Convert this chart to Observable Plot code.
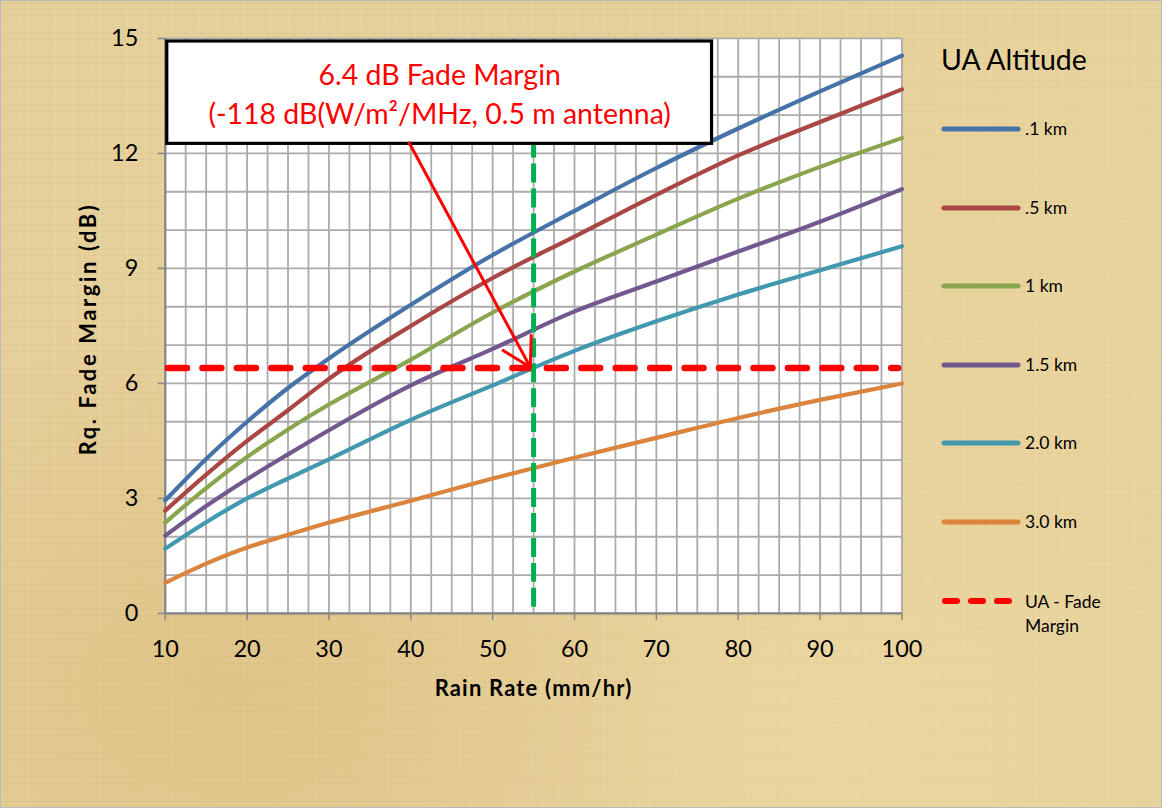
<!DOCTYPE html>
<html>
<head>
<meta charset="utf-8">
<script src="https://cdn.jsdelivr.net/npm/d3@7"></script>
<script src="https://cdn.jsdelivr.net/npm/@observablehq/plot@0.6"></script>
<style>
  html, body { margin: 0; padding: 0; }
  body {
    width: 1162px; height: 808px; position: relative; overflow: hidden;
    font-family: Lato, "Open Sans", sans-serif;
    background-color: #E6D09A;
    background-image:
      radial-gradient(ellipse at 20% 85%, rgba(200,160,80,0.25), transparent 40%),
      radial-gradient(ellipse at 75% 90%, rgba(245,225,170,0.35), transparent 45%),
      radial-gradient(ellipse at 95% 30%, rgba(240,220,165,0.3), transparent 40%),
      repeating-linear-gradient(90deg, rgba(255,255,255,0.08) 0 2px, transparent 2px 9px),
      repeating-linear-gradient(0deg, rgba(150,110,40,0.07) 0 1px, transparent 1px 6px);
    box-sizing: border-box;
    border: 1px solid #b9b9b9;
  }
  #chart { position: absolute; left: 0; top: 0; }
  #legend { position: absolute; left: 0; top: 0; width: 1162px; height: 808px; pointer-events: none; }
  .lg-title { position: absolute; left: 940px; top: 41px; font-size: 28.5px; color: #000; white-space: nowrap; }
  .lg-item { position: absolute; left: 940px; white-space: nowrap; font-size: 17.5px; color: #000; }
  .lg-item svg { position: absolute; left: 0; top: 0; }
  .lg-item span { position: absolute; left: 84px; top: -11px; line-height: 22px; }
</style>
</head>
<body>
<div id="chart"></div>
<div id="legend"></div>
<script>
// ---- data ----
const rainRate = [10, 15, 20, 25, 30, 40, 50, 60, 70, 80, 90, 100];
const alt01 = [2.95, 4.03, 5.00, 5.88, 6.65, 8.05, 9.35, 10.50, 11.62, 12.65, 13.62, 14.55];
const alt05 = [2.68, 3.62, 4.50, 5.30, 6.12, 7.50, 8.75, 9.83, 10.92, 11.95, 12.82, 13.67];
const alt1  = [2.37, 3.27, 4.08, 4.80, 5.45, 6.62, 7.85, 8.92, 9.88, 10.82, 11.65, 12.40];
const alt15 = [2.03, 2.80, 3.50, 4.15, 4.78, 5.95, 6.90, 7.88, 8.66, 9.44, 10.22, 11.07];
const alt20 = [1.69, 2.38, 3.00, 3.52, 4.02, 5.05, 5.95, 6.85, 7.62, 8.32, 8.95, 9.58];
const alt30 = [0.80, 1.30, 1.72, 2.05, 2.37, 2.94, 3.52, 4.06, 4.58, 5.10, 5.57, 6.00];
const seriesNames = [".1 km", ".5 km", "1 km", "1.5 km", "2.0 km", "3.0 km"];
const seriesValues = [alt01, alt05, alt1, alt15, alt20, alt30];
const seriesColors = ["#4572A7", "#AA4643", "#89A54E", "#71588F", "#4198AF", "#DB843D"];
const fadeMargin = 6.4;           // UA - Fade Margin (dB)
const designRainRate = 55;        // mm/hr
const fadeLegendName = "UA - Fade Margin";
const xTicks = [10, 20, 30, 40, 50, 60, 70, 80, 90, 100];
const yTicks = [0, 3, 6, 9, 12, 15];
const xGrid = d3.range(10, 100.01, 2.5);
const yGrid = d3.range(0, 15.01, 1);
const xTitle = "Rain Rate (mm/hr)";
const yTitle = "Rq. Fade Margin (dB)";
const noteLines = ["6.4 dB Fade Margin", "(-118 dB(W/m²/MHz, 0.5 m antenna)"];
// annotation box & arrow in data units
const noteBox = [{x1: 10.25, x2: 76.8, y1: 12.25, y2: 14.92}];
const noteArrow = [{x1: 39.8, y1: 12.28, x2: 54.6, y2: 6.42}];

const table = seriesNames.flatMap((name, i) =>
  rainRate.map((r, j) => ({series: name, rate: r, value: seriesValues[i][j]})));

const font = "Lato, 'Open Sans', sans-serif";
const noteX = (noteBox[0].x1 + noteBox[0].x2) / 2;

const chart = Plot.plot({
  width: 1162,
  height: 808,
  marginLeft: 164,
  marginRight: 260,
  marginTop: 37,
  marginBottom: 195,
  style: {fontFamily: font, background: "transparent", overflow: "visible"},
  x: {domain: [10, 100]},
  y: {domain: [0, 15]},
  color: {domain: seriesNames, range: seriesColors},
  marks: [
    Plot.frame({fill: "white", stroke: "none"}),
    Plot.ruleX(xGrid, {stroke: "#ABABAB", strokeWidth: 1.8}),
    Plot.ruleY(yGrid, {stroke: "#ABABAB", strokeWidth: 1.8}),
    Plot.ruleX([10], {stroke: "#868686", strokeWidth: 2.2}),
    Plot.ruleY([0], {stroke: "#868686", strokeWidth: 2.2}),
    Plot.axisX({ticks: xTicks, tickSize: 7, stroke: "#868686", strokeWidth: 1.5, text: null, label: null}),
    Plot.axisX({ticks: xTicks, tickSize: 0, tickPadding: 27, fontSize: 23.5, fill: "#000", label: null}),
    Plot.axisY({ticks: yTicks, tickSize: 7, stroke: "#868686", strokeWidth: 1.5, text: null, label: null}),
    Plot.axisY({ticks: yTicks, tickSize: 0, tickPadding: 27, fontSize: 23.5, fill: "#000", label: null}),
    Plot.text([xTitle], {frameAnchor: "bottom", dy: 83, fontSize: 22, fontWeight: "bold", fill: "#000", textAnchor: "middle", className: "xtitle"}),
    Plot.text([yTitle], {frameAnchor: "left", dx: -76, dy: 3, rotate: -90, fontSize: 22, fontWeight: "bold", fill: "#000", textAnchor: "middle", className: "ytitle"}),
    Plot.line(table, {x: "rate", y: "value", z: "series", stroke: "series", strokeWidth: 4.2, curve: "monotone-x", strokeLinecap: "round", strokeLinejoin: "round"}),
    Plot.ruleY([fadeMargin], {x1: 10.4, x2: 99.6, stroke: "#FF0000", strokeWidth: 6.5, strokeDasharray: "19,15.5", strokeLinecap: "round"}),
    Plot.ruleX([designRainRate], {y1: 0.16, y2: 12.3, stroke: "#00B050", strokeWidth: 5, strokeDasharray: "19,6"}),
    Plot.rect(noteBox, {x1: "x1", x2: "x2", y1: "y1", y2: "y2", fill: "white", stroke: "#000", strokeWidth: 3.2}),
    Plot.text([noteLines[0]], {x: noteX, y: 14.03, fontSize: 28.5, fill: "#FF0000"}),
    Plot.text([noteLines[1]], {x: noteX, y: 13.0, fontSize: 28.5, fill: "#FF0000"}),
    Plot.arrow(noteArrow, {x1: "x1", y1: "y1", x2: "x2", y2: "y2", stroke: "#FF0000", strokeWidth: 3, headLength: 16, bend: 0})
  ]
});
document.getElementById("chart").append(chart);
// wider letter spacing on the axis titles, as in the original
d3.select(chart).selectAll("g.ytitle text").attr("letter-spacing", "2.6px");
d3.select(chart).selectAll("g.xtitle text").attr("letter-spacing", "1.2px");

// ---- legend ----
const legend = d3.select("#legend");
legend.append("div").attr("class", "lg-title").text("UA Altitude");
const itemTop = 128, itemStep = 78.6;
seriesNames.forEach((name, i) => {
  const item = legend.append("div").attr("class", "lg-item").style("top", (itemTop + i * itemStep) + "px");
  const s = item.append("svg").attr("width", 80).attr("height", 10).style("top", "-5px");
  s.append("line").attr("x1", 3).attr("x2", 77).attr("y1", 5).attr("y2", 5)
    .attr("stroke", seriesColors[i]).attr("stroke-width", 5).attr("stroke-linecap", "round");
  item.append("span").text(name);
});
{
  const i = seriesNames.length;
  const item = legend.append("div").attr("class", "lg-item").style("top", (itemTop + i * itemStep) + "px");
  const s = item.append("svg").attr("width", 80).attr("height", 10).style("top", "-5px");
  s.append("line").attr("x1", 4).attr("x2", 76).attr("y1", 5).attr("y2", 5)
    .attr("stroke", "#FF0000").attr("stroke-width", 6).attr("stroke-dasharray", "12,14").attr("stroke-linecap", "round");
  const words = fadeLegendName.split(" ");
  item.append("span").style("white-space", "normal").style("width", "80px").style("line-height", "24px")
    .html(words.slice(0, 3).join(" ") + "<br>" + words.slice(3).join(" "));
}
</script>
</body>
</html>
